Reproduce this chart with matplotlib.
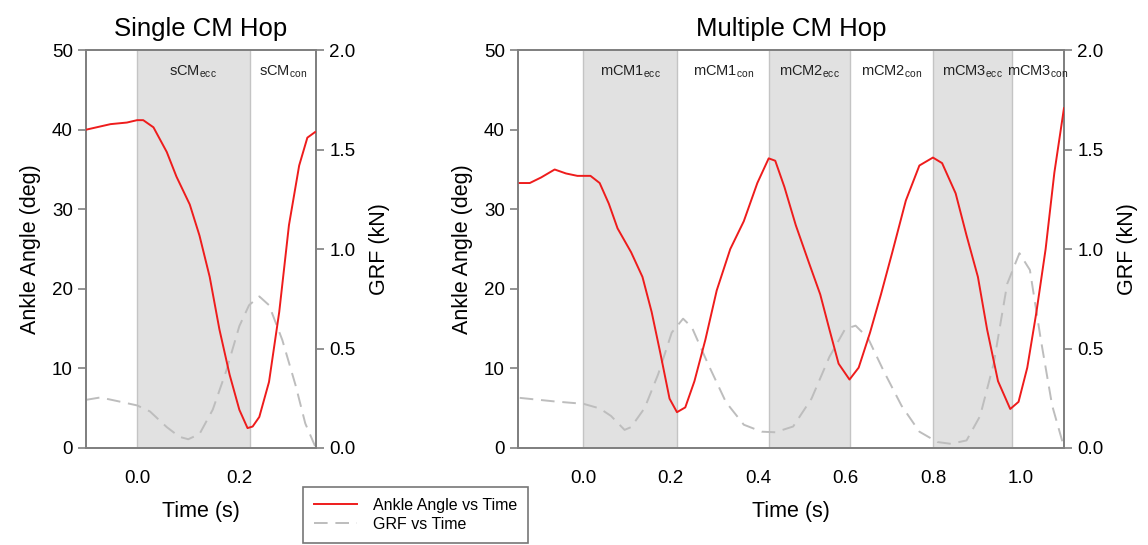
import matplotlib.pyplot as plt

plt.rcParams['font.family'] = ['Liberation Sans', 'DejaVu Sans']
plt.rcParams['mathtext.default'] = 'regular'

# single CM hop
s_time = [-0.1, -0.052, -0.02, 0.0, 0.012, 0.032, 0.058, 0.077, 0.103, 0.122, 0.142, 0.161,
          0.181, 0.2, 0.216, 0.226, 0.239, 0.258, 0.278, 0.297, 0.317, 0.333, 0.348]
s_angle = [40.0, 40.7, 40.9, 41.2, 41.2, 40.3, 37.2, 34.1, 30.6, 26.7, 21.5, 14.9,
           9.2, 4.8, 2.5, 2.7, 3.9, 8.3, 17.1, 28.0, 35.5, 39.0, 39.7]
s_grf_time = [-0.1, -0.072, -0.039, 0.0, 0.025, 0.058, 0.083, 0.1, 0.122, 0.148, 0.174, 0.2,
              0.219, 0.239, 0.258, 0.284, 0.31, 0.329, 0.348]
s_grf = [0.242, 0.254, 0.236, 0.214, 0.184, 0.105, 0.056, 0.044, 0.07, 0.193, 0.385, 0.613,
         0.718, 0.762, 0.718, 0.543, 0.315, 0.123, 0.01]
s_phases = [0.0, 0.22, 0.35]
s_labels = ['sCM$_{ecc}$', 'sCM$_{con}$']

# multiple CM hop
m_time = [-0.146, -0.123, -0.097, -0.066, -0.040, -0.014, 0.016, 0.037, 0.058, 0.078, 0.109,
          0.135, 0.156, 0.176, 0.197, 0.214, 0.233, 0.254, 0.279, 0.305, 0.336, 0.367, 0.398,
          0.424, 0.439, 0.460, 0.486, 0.516, 0.542, 0.563, 0.584, 0.609, 0.630, 0.656, 0.681,
          0.707, 0.738, 0.769, 0.800, 0.821, 0.852, 0.877, 0.903, 0.924, 0.949, 0.977, 0.996,
          1.016, 1.037, 1.058, 1.078, 1.1]
m_angle = [33.3, 33.3, 34.0, 35.0, 34.5, 34.2, 34.2, 33.3, 30.7, 27.6, 24.6,
           21.5, 17.1, 11.9, 6.2, 4.5, 5.1, 8.4, 13.6, 19.8, 25.0, 28.5, 33.3,
           36.4, 36.1, 32.8, 28.0, 23.3, 19.3, 14.9, 10.6, 8.6, 10.1, 14.5, 19.3,
           24.6, 31.1, 35.5, 36.5, 35.8, 32.0, 26.7, 21.5, 14.9, 8.4, 4.9, 5.8,
           10.1, 17.1, 25.0, 34.6, 42.7]
m_grf_time = [-0.146, -0.066, 0.0, 0.037, 0.063, 0.094, 0.109, 0.140, 0.171, 0.202, 0.228,
              0.248, 0.285, 0.326, 0.367, 0.408, 0.439, 0.480, 0.522, 0.563, 0.599, 0.623,
              0.651, 0.687, 0.728, 0.769, 0.810, 0.841, 0.877, 0.908, 0.939, 0.970, 0.998,
              1.022, 1.047, 1.073, 1.099]
m_grf = [0.252, 0.234, 0.222, 0.199, 0.161, 0.091, 0.105, 0.201, 0.371, 0.580, 0.650,
         0.607, 0.423, 0.231, 0.117, 0.082, 0.079, 0.108, 0.248, 0.458, 0.598, 0.615,
         0.554, 0.388, 0.213, 0.082, 0.030, 0.021, 0.038, 0.161, 0.423, 0.825, 0.979,
         0.895, 0.545, 0.213, 0.012]
m_phases = [0.0, 0.215, 0.425, 0.61, 0.80, 0.98, 1.1]
m_labels = ['mCM1$_{ecc}$', 'mCM1$_{con}$', 'mCM2$_{ecc}$', 'mCM2$_{con}$',
            'mCM3$_{ecc}$', 'mCM3$_{con}$']

spine_c = '#808080'
shade_c = '#e1e1e1'

fig = plt.figure(figsize=(11.48, 5.45), dpi=100)
ax_s = fig.add_axes([0.0749, 0.178, 0.2004, 0.730])
ax_m = fig.add_axes([0.4512, 0.178, 0.4756, 0.730])


def draw_panel(ax, title, t, ang, gt, grf, phases, labels, xlim, xticks):
    ax2 = ax.twinx()
    # shading goes on the back axes so the dashed GRF line stays visible
    for i, lab in enumerate(labels):
        a, b = phases[i], phases[i + 1]
        if i % 2 == 0:
            ax2.axvspan(a, b, color=shade_c, lw=0, zorder=0)
        ax2.axvline(a, color='#c4c4c4', lw=1.0, zorder=0.5)
        ax.text((a + b) / 2, 47.3, lab, ha='center', va='center', fontsize=10.5, color='#222222')
    ln1, = ax.plot(t, ang, color='#ee1c1c', lw=1.4, zorder=3, label='Ankle Angle vs Time',
                   solid_joinstyle='round')
    ln2, = ax2.plot(gt, grf, color='#bdbdbd', lw=1.4, dashes=(7, 4), label='GRF vs Time', zorder=2)
    ax.set_zorder(ax2.get_zorder() + 1)
    ax.patch.set_visible(False)
    ax.set_xlim(xlim)
    ax.set_ylim(0, 50)
    ax2.set_ylim(0, 2.0)
    ax.set_xticks(xticks)
    ax.set_xticklabels(['%.1f' % v for v in xticks])
    ax.set_yticks([0, 10, 20, 30, 40, 50])
    ax2.set_yticks([0, 0.5, 1.0, 1.5, 2.0])
    ax2.set_yticklabels(['0.0', '0.5', '1.0', '1.5', '2.0'])
    for a in (ax, ax2):
        for sp in a.spines.values():
            sp.set_color(spine_c)
            sp.set_linewidth(1.3)
        a.tick_params(labelsize=13.5, color=spine_c, width=1.2, length=6, direction='out')
    ax.tick_params(axis='x', length=0, pad=16)
    ax.set_title(title, fontsize=18.5, pad=10)
    ax.set_xlabel('Time (s)', fontsize=15.5, labelpad=10)
    ax.set_ylabel('Ankle Angle (deg)', fontsize=15.5, labelpad=8)
    ax2.set_ylabel('GRF (kN)', fontsize=15.5, labelpad=10)
    return ln1, ln2


lines = draw_panel(ax_s, 'Single CM Hop', s_time, s_angle, s_grf_time, s_grf,
                   s_phases, s_labels, (-0.1, 0.35), [0.0, 0.2])
draw_panel(ax_m, 'Multiple CM Hop', m_time, m_angle, m_grf_time, m_grf,
           m_phases, m_labels, (-0.15, 1.1), [0.0, 0.2, 0.4, 0.6, 0.8, 1.0])

leg = fig.legend(lines, [l.get_label() for l in lines], loc='upper left',
                 bbox_to_anchor=(0.264, 0.107), fontsize=11.5, frameon=True,
                 fancybox=False, edgecolor='#555555', handlelength=2.7,
                 borderpad=0.7, labelspacing=0.25, handletextpad=0.95, borderaxespad=0)
leg.get_frame().set_linewidth(1.2)

fig.savefig('out.png', dpi=100)
